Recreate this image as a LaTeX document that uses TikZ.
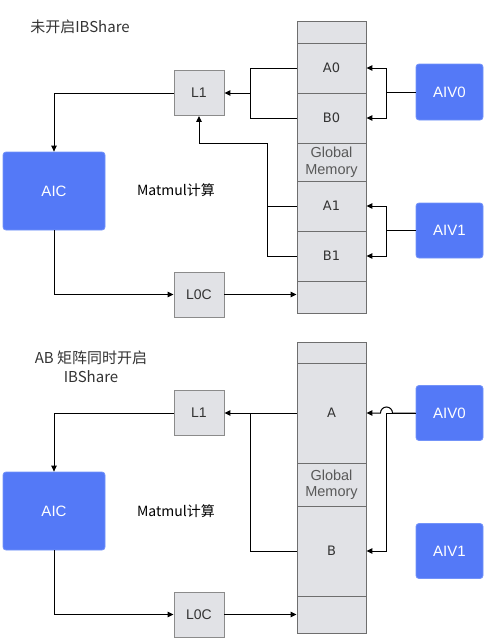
\documentclass[tikz,border=0pt]{standalone}
\usepackage{fontspec}
\setmainfont{Liberation Sans}
\newfontfamily\cjkfont{Noto Sans CJK SC}
\newfontfamily\dvfont{DejaVu Sans}
\usetikzlibrary{arrows.meta}
\definecolor{aiblue}{HTML}{5479F7}
\definecolor{aiblueedge}{HTML}{7393F9}
\definecolor{cellfill}{HTML}{E1E2E6}
\definecolor{celledge}{HTML}{6E6E6E}
\definecolor{txtdark}{HTML}{333333}
\definecolor{txtgray}{HTML}{595959}
\begin{document}
\begin{tikzpicture}[x=1pt,y=-1pt,
  bluebox/.style={rectangle,rounded corners=3pt,fill=aiblue,draw=aiblueedge,line width=0.8pt,
    text=white,font=\fontsize{15}{18}\selectfont,inner sep=0pt},
  grbox/.style={rectangle,fill=cellfill,draw=celledge!80,line width=0.9pt,text=txtdark,
    font=\fontsize{14}{16}\selectfont,minimum width=50pt,minimum height=45pt,inner sep=0pt},
  cell/.style={rectangle,fill=cellfill,draw=celledge,line width=0.9pt,text=txtdark,
    font=\dvfont\fontsize{13}{15}\selectfont,minimum width=69pt,inner sep=0pt},
  gmcell/.style={cell,text=txtgray,font=\fontsize{14.5}{16.5}\selectfont,align=center},
  lbl/.style={text=black,font=\cjkfont\fontsize{14}{17}\selectfont,inner sep=0pt},
  ttl/.style={text=txtdark,font=\cjkfont\fontsize{15}{19}\selectfont,inner sep=0pt,align=center},
  conn/.style={draw=black,line width=1pt},
  arr/.style={conn,-{Triangle[length=6pt,width=5.5pt]}}]
\useasboundingbox (0,0) rectangle (484,638);

% ---------------- top diagram ----------------
\node[ttl] (t1) at (80,26.5) {未开启IBShare};
\node[lbl] (mm1) at (176,190) {Matmul计算};

\node[cell,minimum height=22pt] (m0) at (331.5,32) {};
\node[cell,minimum height=50pt] (A0) at (331.5,68) {A0};
\node[cell,minimum height=50pt] (B0) at (331.5,118) {B0};
\node[gmcell,minimum height=38pt] (gm1) at (331.5,162) {Global\\Memory};
\node[cell,minimum height=50pt] (A1) at (331.5,206) {A1};
\node[cell,minimum height=50pt] (B1) at (331.5,256) {B1};
\node[cell,minimum height=32pt] (m6) at (331.5,297) {};

\node[grbox] (L1) at (199,93) {L1};
\node[grbox] (L0C) at (199,294.5) {L0C};
\node[bluebox,minimum width=102pt,minimum height=78pt] (AIC) at (54,191) {AIC};
\node[bluebox,minimum width=67pt,minimum height=56pt] (AIV0) at (449.5,92) {AIV0};
\node[bluebox,minimum width=67pt,minimum height=55pt] (AIV1) at (449.5,230.5) {AIV1};

\coordinate (j1) at (250,93);
\draw[conn] (A0.west) -| (j1);
\draw[conn] (B0.west) -| (j1);
\draw[arr] (j1) -- (L1.east);

\coordinate (j2) at (267,143);
\draw[conn] (A1.west) -- (A1.west -| j2);
\draw[arr] (B1.west) -| (j2) -| (L1.south);

\coordinate (v0) at (386,92);
\draw[conn] (AIV0.west) -- (v0);
\draw[arr] (v0) |- (A0.east);
\draw[arr] (v0) |- (B0.east);

\coordinate (v1) at (386,230.5);
\draw[conn] (AIV1.west) -- (v1);
\draw[arr] (v1) |- (A1.east);
\draw[arr] (v1) |- (B1.east);

\draw[arr] (L1.west) -| (AIC.north);
\draw[arr] (AIC.south) |- (L0C.west);
\draw[arr] (L0C.east) -- (L0C.east -| m6.west);

% ---------------- bottom diagram ----------------
\node[ttl] (t2) at (91,367) {AB 矩阵同时开启\\IBShare};
\node[lbl] (mm2) at (176,511) {Matmul计算};

\node[cell,minimum height=21pt] (n0) at (331.5,352.5) {};
\node[cell,minimum height=100pt] (Ab) at (331.5,413) {A};
\node[gmcell,minimum height=43pt] (gm2) at (331.5,484.5) {Global\\Memory};
\node[cell,minimum height=90pt] (Bb) at (331.5,551) {B};
\node[cell,minimum height=37pt] (n4) at (331.5,614.5) {};

\node[grbox] (L1b) at (199,413) {L1};
\node[grbox] (L0Cb) at (199,614.5) {L0C};
\node[bluebox,minimum width=102pt,minimum height=78pt] (AICb) at (54,511) {AIC};
\node[bluebox,minimum width=67pt,minimum height=55pt] (AIV0b) at (449.5,413) {AIV0};
\node[bluebox,minimum width=67pt,minimum height=55pt] (AIV1b) at (449.5,551) {AIV1};

\coordinate (j3) at (250,413);
\draw[arr] (Ab.west) -- (L1b.east);
\draw[conn] (Bb.west) -| (j3);

\coordinate (v2) at (386.5,413);
\draw[arr] (AIV0b.west) -- ([xshift=6pt]v2) arc[start angle=0,end angle=-180,radius=6] -- (Ab.east);
\draw[arr] (AIV0b.west) -- (v2) |- (Bb.east);

\draw[arr] (L1b.west) -| (AICb.north);
\draw[arr] (AICb.south) |- (L0Cb.west);
\draw[arr] (L0Cb.east) -- (L0Cb.east -| n4.west);
\end{tikzpicture}
\end{document}
